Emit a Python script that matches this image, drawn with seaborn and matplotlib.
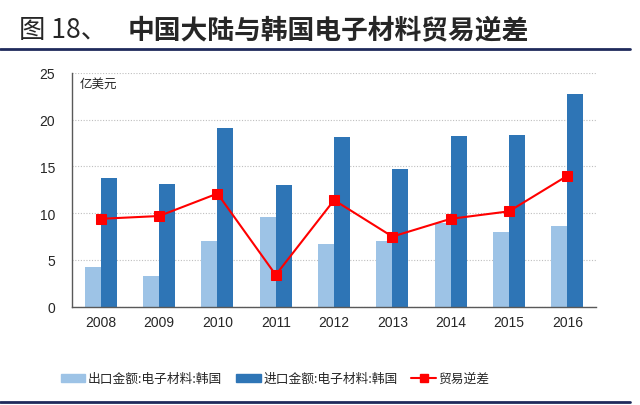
import numpy as np
import pandas as pd
import matplotlib
matplotlib.use("Agg")
import matplotlib.pyplot as plt
from matplotlib.lines import Line2D
from matplotlib.patches import Patch
import seaborn as sns

# values (亿美元)
years = ["2008", "2009", "2010", "2011", "2012", "2013", "2014", "2015", "2016"]
export_vals = [4.2, 3.3, 7.0, 9.6, 6.7, 7.0, 9.0, 8.0, 8.6]
import_vals = [13.8, 13.1, 19.1, 13.0, 18.1, 14.7, 18.3, 18.4, 22.7]
deficit_vals = [9.4, 9.7, 12.1, 3.4, 11.4, 7.5, 9.4, 10.2, 14.0]

name_exp = "出口金额:电子材料:韩国"
name_imp = "进口金额:电子材料:韩国"
name_def = "贸易逆差"

c_light = "#9DC3E6"
c_dark = "#2E75B6"
c_red = "#FF0000"

sns.set_style("white")
plt.rcParams["font.family"] = ["Liberation Sans", "Noto Sans CJK SC", "DejaVu Sans"]
cjk = ["Noto Sans CJK SC", "DejaVu Sans"]

#long form table for the grouped bars
df = pd.DataFrame({
    "year": years * 2,
    "value": export_vals + import_vals,
    "series": [name_exp] * len(years) + [name_imp] * len(years),
})

fig = plt.figure(figsize=(6.4, 4.06), dpi=100)
ax = fig.add_axes([0.112, 0.242, 0.820, 0.576])

sns.barplot(data=df, x="year", y="value", hue="series", order=years,
            hue_order=[name_exp, name_imp], palette=[c_light, c_dark],
            width=0.55, gap=0, saturation=1, errorbar=None, legend=False, ax=ax)
for p in ax.patches:
    p.set_edgecolor("none")

pos = np.arange(len(years))
sns.lineplot(x=pos, y=deficit_vals, color=c_red, lw=1.5, marker="s",
             markersize=7, markeredgecolor=c_red, ax=ax, zorder=5)

ax.set_xlim(-0.5, len(years) - 0.5)
ax.set_ylim(0, 25)
ax.set_yticks([0, 5, 10, 15, 20, 25])
ax.set_xlabel("")
ax.set_ylabel("")
ax.yaxis.grid(True, ls=(0, (1, 1.5)), color="#BFBFBF", lw=0.8)
ax.set_axisbelow(True)

# tick marks sit between categories, pointing inward
ax.set_xticks(pos + 0.5, minor=True)
ax.tick_params(axis="x", which="major", length=0, labelsize=10, pad=6)
ax.tick_params(axis="x", which="minor", direction="in", length=4, color="#595959")
ax.tick_params(axis="y", length=0, labelsize=10, pad=12)

for s in ["top", "right"]:
    ax.spines[s].set_visible(False)
for s in ["left", "bottom"]:
    ax.spines[s].set_color("#595959")
    ax.spines[s].set_linewidth(1.0)

ax.text(0.016, 0.985, "亿美元", transform=ax.transAxes, fontsize=9,
        va="top", ha="left", family=cjk)

handles = [Patch(color=c_light), Patch(color=c_dark),
           Line2D([], [], color=c_red, lw=1.5, marker="s", markersize=6)]
leg = fig.legend(handles, [name_exp, name_imp, name_def], loc="center",
                 bbox_to_anchor=(0.43, 0.065), ncol=3, frameon=False,
                 handlelength=1.9, handleheight=0.6, columnspacing=1.1,
                 handletextpad=0.2, prop={"family": "Noto Sans CJK SC", "size": 9.2})

# title and rules
fig.text(0.03, 0.925, "图 18、", fontsize=19, family=cjk, va="center", ha="left")
fig.text(0.2, 0.925, "中国大陆与韩国电子材料贸易逆差", fontsize=19.3,
         fontweight="bold", family=cjk, va="center", ha="left")
fig.add_artist(Line2D([0.0, 0.985], [0.877, 0.877], color="#1F2A5C", lw=2))
fig.add_artist(Line2D([0.0, 0.985], [0.008, 0.008], color="#1F2A5C", lw=2))

fig.savefig("out.png", dpi=100)
